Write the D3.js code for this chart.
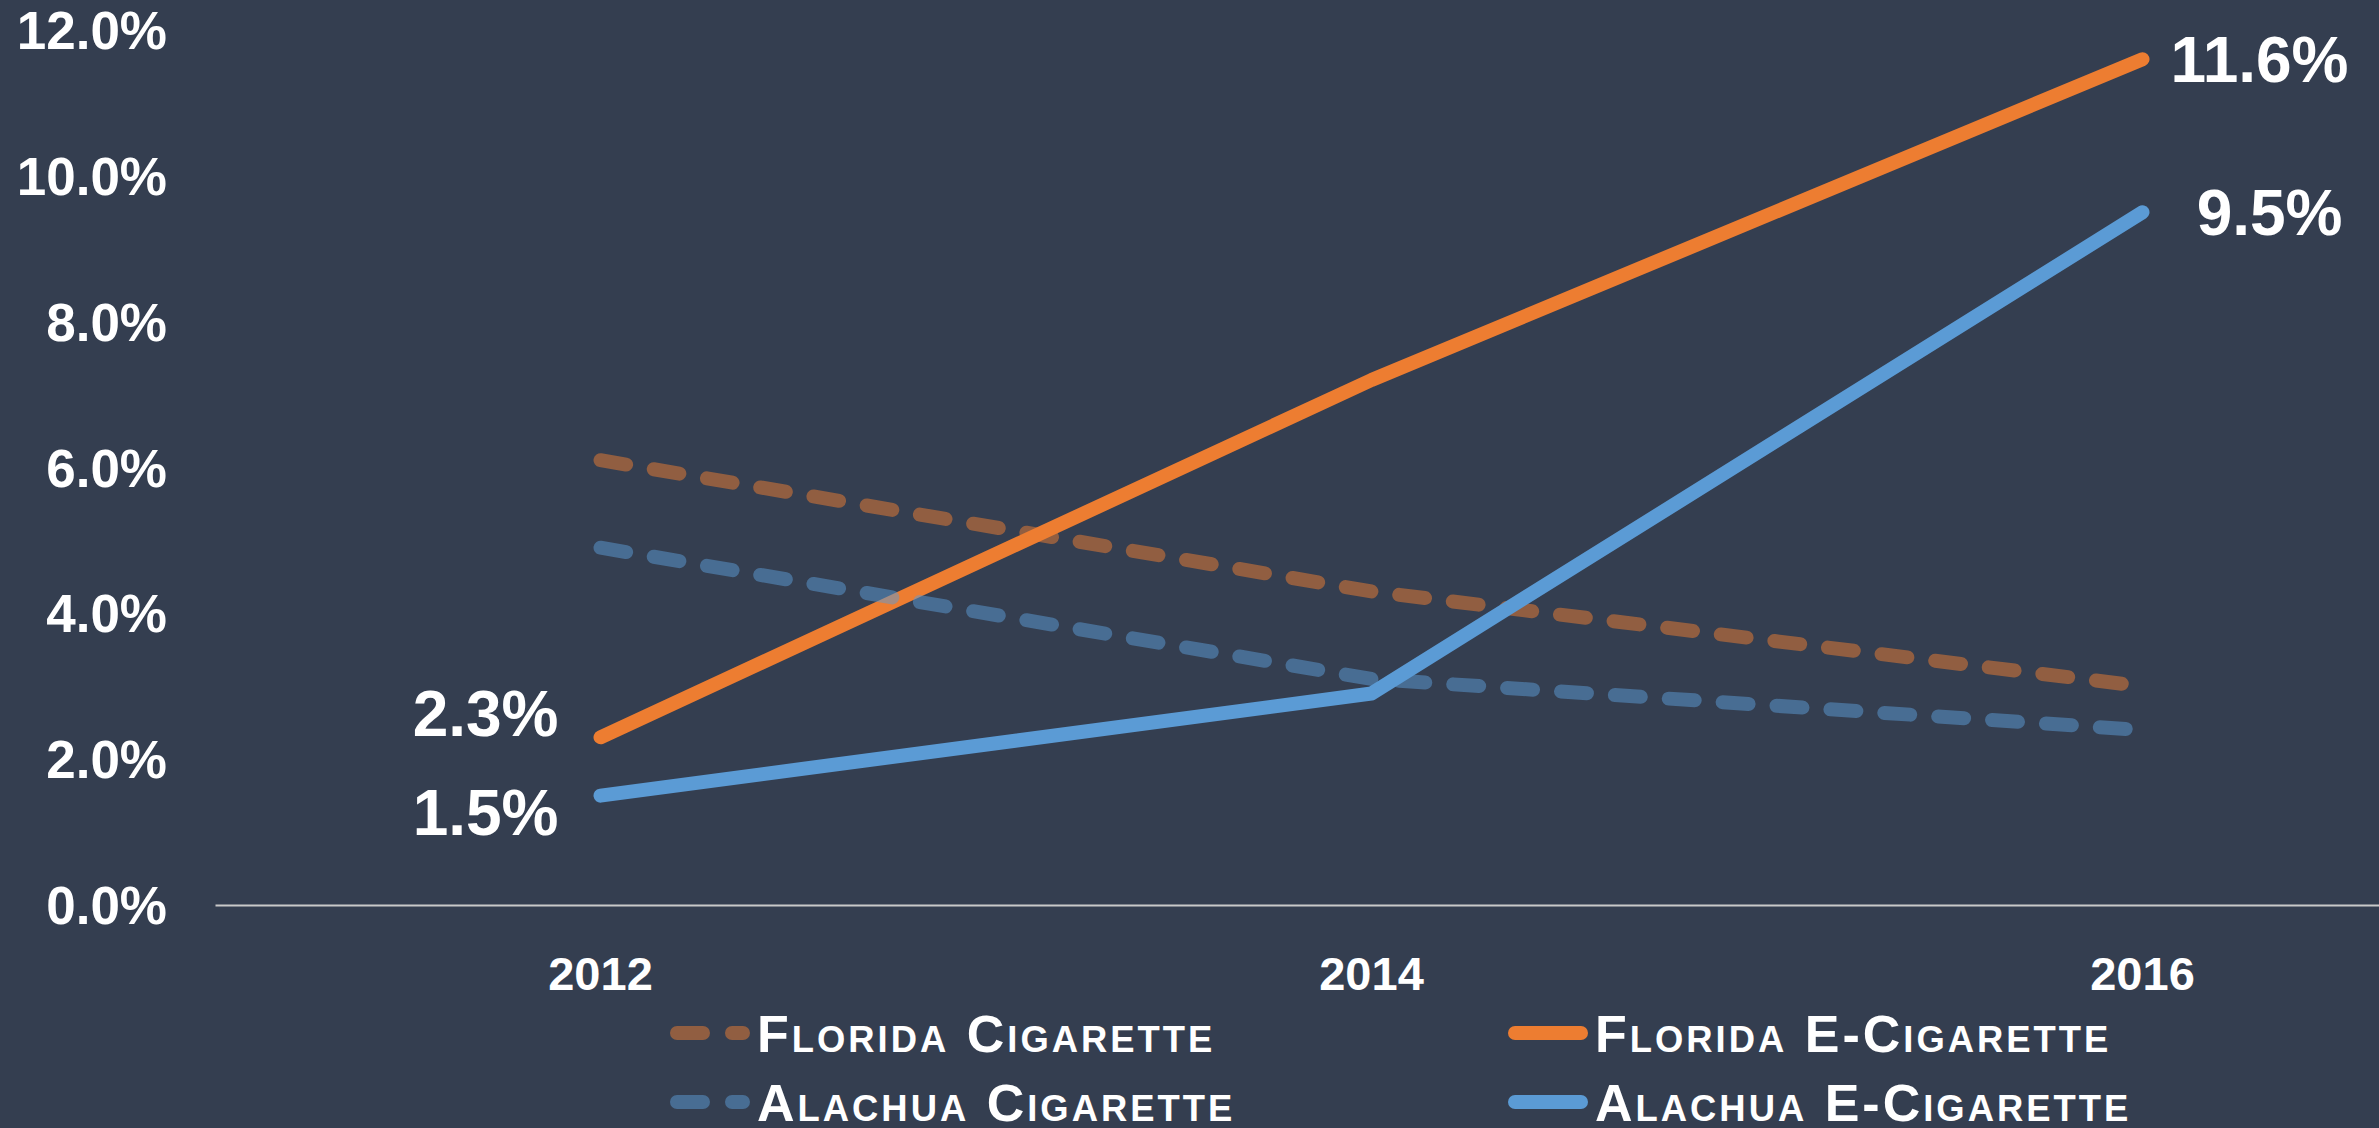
<!DOCTYPE html>
<html>
    <head>
        <title>Youth Cigarette and E-Cigarette Use</title>
        <script src="https://cdn.jsdelivr.net/npm/d3@7"></script>
        <style type="text/css">
            html,
            body {
                margin: 0;
                padding: 0;
                background: #343e50;
                overflow: hidden;
            }
            text {
                font-family: "Liberation Sans", Arial, sans-serif;
                font-weight: bold;
                fill: #ffffff;
            }
        </style>
    </head>
    <body>
        <svg id="chart" width="2379" height="1128"></svg>
        <script>
            // ---------- data (percent)
            var years = ["2012", "2014", "2016"];
            var floridaCig = [6.1, 4.3, 3.0];
            var floridaECig = [2.3, 7.2, 11.6];
            var alachuaCig = [4.9, 3.1, 2.4];
            var alachuaECig = [1.5, 2.9, 9.5];
            var seriesNames = ["Florida Cigarette", "Florida E-Cigarette", "Alachua Cigarette", "Alachua E-Cigarette"];
            var yTicks = [0, 2, 4, 6, 8, 10, 12];

            // ---------- look
            var W = 2379, H = 1128;
            var orange = "#ed7d31", blue = "#5b9bd5";
            var series = [
                { name: seriesNames[0], values: floridaCig, color: orange, dashed: true },
                { name: seriesNames[1], values: floridaECig, color: orange, dashed: false },
                { name: seriesNames[2], values: alachuaCig, color: blue, dashed: true },
                { name: seriesNames[3], values: alachuaECig, color: blue, dashed: false }
            ];

            // which points get a value label, and where it sits
            var pointLabels = [
                { s: 1, i: 0, anchor: "end", dx: -42, dy: -24 },
                { s: 3, i: 0, anchor: "end", dx: -42, dy: 16 },
                { s: 1, i: 2, anchor: "end", dx: 206, dy: 0 },
                { s: 3, i: 2, anchor: "end", dx: 200, dy: 0 }
            ];

            var svg = d3.select("#chart");
            svg.append("rect").attr("width", W).attr("height", H).attr("fill", "#343e50");

            var x = d3.scaleBand().domain(years).range([215, 2528]);
            var y = d3.scaleLinear().domain([0, 12]).range([905, 30]);
            var cx = function(d) { return x(d) + x.bandwidth() / 2; };

            // y axis labels
            var yAxis = d3.axisLeft(y)
                .tickValues(yTicks)
                .tickSize(0)
                .tickPadding(8)
                .tickFormat(function(d) { return d.toFixed(1) + "%"; });
            var gy = svg.append("g").attr("transform", "translate(175,0)").call(yAxis);
            gy.select(".domain").remove();
            gy.selectAll("text")
                .attr("fill", "#fff")
                .style("font-size", "53px")
                .attr("dy", "0.35em");

            // x axis
            var xAxis = d3.axisBottom(x).tickSize(0).tickPadding(52);
            var gx = svg.append("g").attr("transform", "translate(0,905)").call(xAxis);
            gx.select(".domain").attr("stroke", "#c9c9c9").attr("stroke-width", 2);
            gx.selectAll("text")
                .attr("fill", "#fff")
                .style("font-size", "47px");

            // lines
            var line = d3.line()
                .x(function(d, i) { return cx(years[i]); })
                .y(function(d) { return y(d); });

            svg.append("g").selectAll("path")
                .data(series)
                .join("path")
                .attr("d", function(s) { return line(s.values); })
                .attr("fill", "none")
                .attr("stroke", function(s) { return s.color; })
                .attr("stroke-opacity", function(s) { return s.dashed ? 0.5 : 1; })
                .attr("stroke-width", 14)
                .attr("stroke-linecap", "round")
                .attr("stroke-linejoin", "round")
                .attr("stroke-dasharray", function(s) { return s.dashed ? "26,28" : null; });

            // value labels
            svg.append("g").selectAll("text")
                .data(pointLabels)
                .join("text")
                .attr("x", function(p) { return cx(years[p.i]) + p.dx; })
                .attr("y", function(p) { return y(series[p.s].values[p.i]) + p.dy; })
                .attr("dy", "0.36em")
                .attr("text-anchor", function(p) { return p.anchor; })
                .style("font-size", "64px")
                .text(function(p) { return series[p.s].values[p.i].toFixed(1) + "%"; });

            // legend, two columns, two rows
            var legCols = [670, 1508], legRows = [1033, 1102];
            var leg = svg.append("g").selectAll("g")
                .data(series)
                .join("g")
                .attr("transform", function(s, i) {
                    return "translate(" + legCols[i % 2] + "," + legRows[Math.floor(i / 2)] + ")";
                });

            leg.append("line")
                .attr("x1", 7).attr("x2", 73)
                .attr("stroke", function(s) { return s.color; })
                .attr("stroke-opacity", function(s) { return s.dashed ? 0.5 : 1; })
                .attr("stroke-width", 14)
                .attr("stroke-linecap", "round")
                .attr("stroke-dasharray", function(s) { return s.dashed ? "26,29" : null; });

            // small caps by hand: lower case letters drawn as smaller capitals
            leg.append("text")
                .attr("x", 87)
                .attr("y", 19)
                .style("font-size", "52px")
                .style("letter-spacing", "3px")
                .each(function(s) {
                    var t = d3.select(this);
                    s.name.split("").forEach(function(ch) {
                        var small = ch !== ch.toUpperCase();
                        t.append("tspan")
                            .style("font-size", small ? "36.4px" : "52px")
                            .text(ch.toUpperCase());
                    });
                });
        </script>
    </body>
</html>
